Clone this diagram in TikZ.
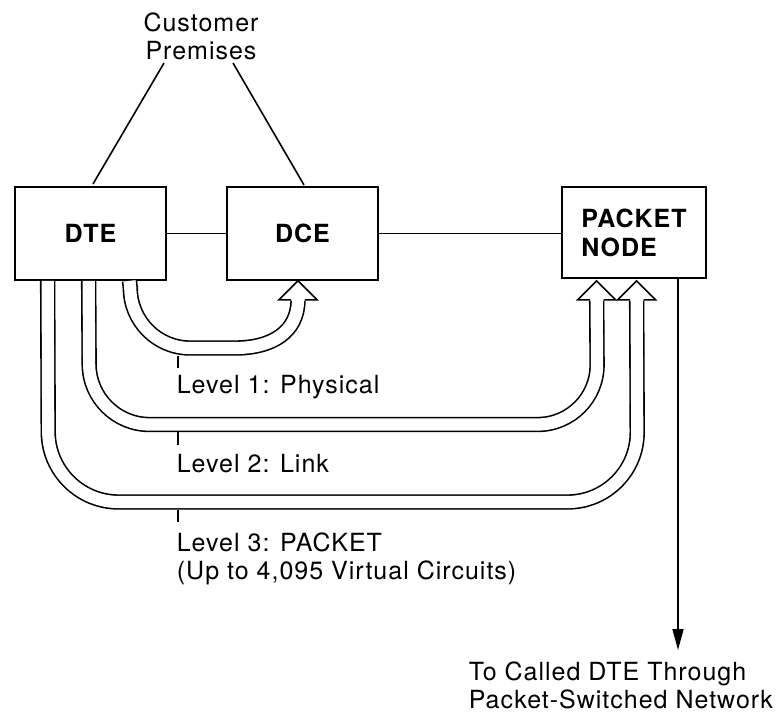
\documentclass[tikz,border=0pt]{standalone}
\usepackage{fontspec}
\setmainfont{TeX Gyre Heros}[LetterSpace=4]
\usetikzlibrary{calc,arrows.meta}
\tikzset{
  hhead/.pic={
    \fill[white] (-7.0,0.8) -- (-19,0.8) -- (-19,0) -- (0,-19) -- (19,0) -- (19,0.8) -- (7.0,0.8) -- cycle;
    \draw[line width=1.6pt, line join=miter] (-6.9,0) -- (-19,0) -- (0,-19) -- (19,0) -- (6.9,0);
  }
}
\begin{document}
\begin{tikzpicture}[x=1pt,y=-1pt,line width=1.6pt,
  box/.style={draw, rectangle, minimum width=151pt, minimum height=93pt, inner sep=0pt,
              line width=1.7pt, font=\fontsize{25}{29}\selectfont\bfseries},
  lbl/.style={font=\fontsize{25}{28}\selectfont, inner sep=0pt},
  pipe/.style={draw=black, line width=1.6pt, double=white, double distance=12.2pt}]
\useasboundingbox (0,0) rectangle (783,715);

% boxes
\node[box] (dte) at (90.5,233.5) {DTE};
\node[box] (dce) at (302.5,233.5) {DCE};
\node[box, minimum width=144pt, minimum height=91pt, align=left] (pkt) at (634,232.5) {PACKET\\NODE};

% customer premises
\node[lbl, align=center] (cust) at (201,36) {Customer\\Premises};
\coordinate (c1) at (164,63);
\coordinate (c2) at (93,184);
\coordinate (c3) at (233,63);
\coordinate (c4) at (304,185);
\draw (c1) -- (c2);
\draw (c3) -- (c4);

% plain connectors
\draw (dte) -- (dce);
\draw (dce.east) -- (dce.east -| pkt.west);

% pipe start / head points
\coordinate (p1s) at ($(dte.south west)+(115.3,0)$);
\coordinate (p2s) at ($(dte.south west)+(74.5,0)$);
\coordinate (p3s) at ($(dte.south west)+(33.5,0)$);
\coordinate (h1) at ($(dce.south)+(-4.5,19)$);
\coordinate (h2) at ($(pkt.south west)+(35.5,21)$);
\coordinate (h3) at ($(pkt.south west)+(75.5,21)$);

% Level 1
\draw[pipe] (p1s) -- (130.3,288) .. controls (130.3,321) and (157,348) .. (190,348)
  -- (235,348) .. controls (272,348) and (298,332) .. (h1);
\pic at (h1) {hhead};

% Level 2
\draw[pipe, rounded corners=60pt] (p2s) -- (89.5,424.5) -- (597.5,424.5) -- (h2);
\pic at (h2) {hhead};

% Level 3
\draw[pipe, rounded corners=70pt] (p3s) -- (48.5,502) -- (637.5,502) -- (h3);
\pic at (h3) {hhead};

% ticks
\coordinate (t1a) at (178,355.5); \coordinate (t1b) at (178,368);
\coordinate (t2a) at (178,432);   \coordinate (t2b) at (178,445);
\coordinate (t3a) at (178,509.5); \coordinate (t3b) at (178,522);
\draw (t1a) -- (t1b);
\draw (t2a) -- (t2b);
\draw (t3a) -- (t3b);

% level labels
\node[lbl, anchor=base west] (l1) at (176,393) {Level 1: Physical};
\node[lbl, anchor=base west] (l2) at (176,472) {Level 2: Link};
\node[lbl, anchor=north west, align=left] (l3) at (176,532) {Level 3: PACKET\\(Up to 4,095 Virtual Circuits)};

% outgoing arrow
\node[lbl, anchor=north west, align=left] (dest) at (468,661) {To Called DTE Through\\Packet-Switched Network};
\coordinate (aend) at (678,650);
\draw[-{Triangle[length=21pt,width=11pt]}] (pkt.south -| aend) -- (aend);
\end{tikzpicture}
\end{document}
